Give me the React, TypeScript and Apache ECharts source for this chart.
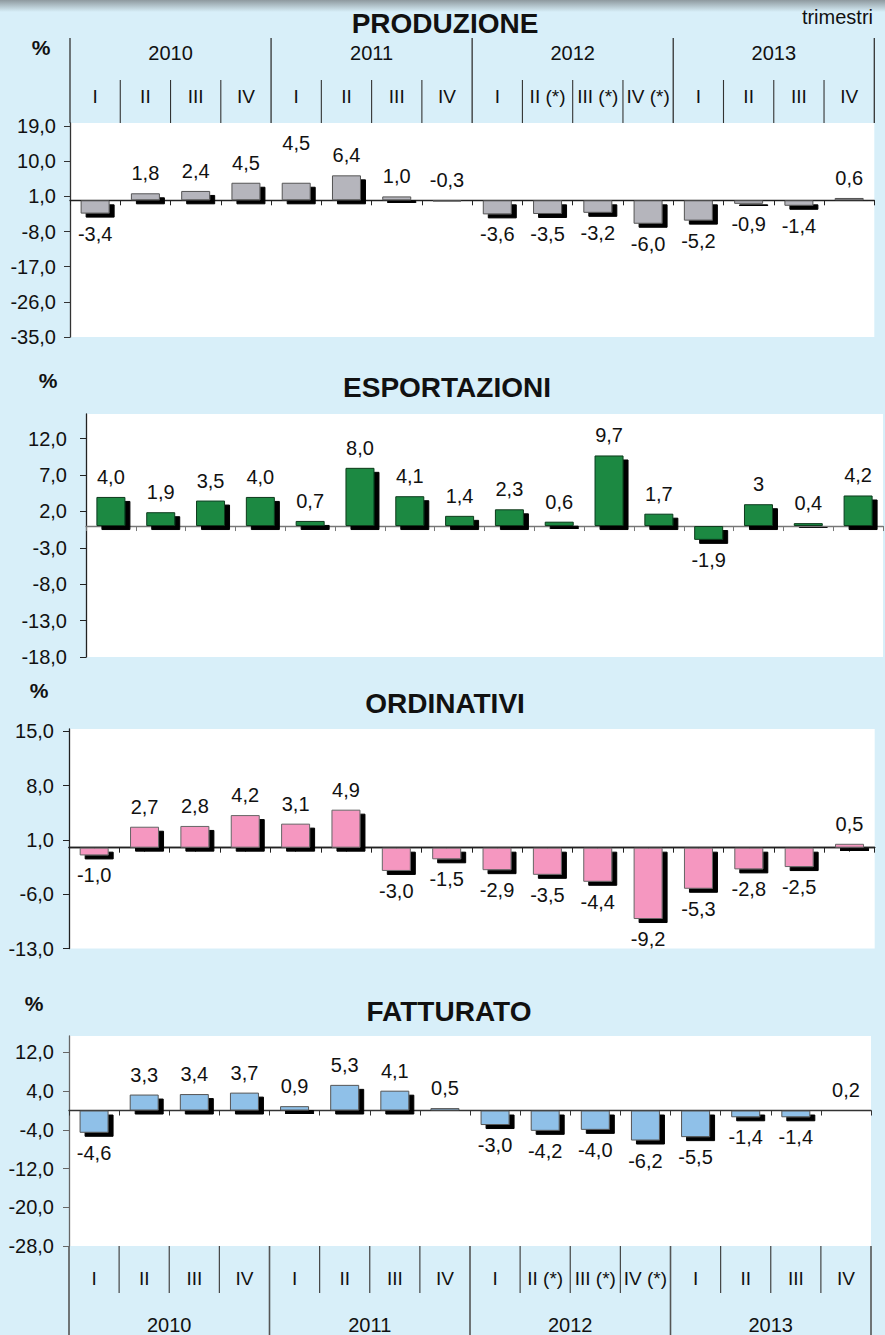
import React, { useEffect, useRef } from "react";
import * as echarts from "echarts";

// ---------- DATA ----------
const years = ["2010", "2011", "2012", "2013"];
const quarters = ["I", "II", "III", "IV", "I", "II", "III", "IV", "I", "II (*)", "III (*)", "IV (*)", "I", "II", "III", "IV"];

const produzione = [-3.4, 1.8, 2.4, 4.5, 4.5, 6.4, 1.0, -0.3, -3.6, -3.5, -3.2, -6.0, -5.2, -0.9, -1.4, 0.6];
const esportazioni = [4.0, 1.9, 3.5, 4.0, 0.7, 8.0, 4.1, 1.4, 2.3, 0.6, 9.7, 1.7, -1.9, 3, 0.4, 4.2];
const ordinativi = [-1.0, 2.7, 2.8, 4.2, 3.1, 4.9, -3.0, -1.5, -2.9, -3.5, -4.4, -9.2, -5.3, -2.8, -2.5, 0.5];
const fatturato = [-4.6, 3.3, 3.4, 3.7, 0.9, 5.3, 4.1, 0.5, -3.0, -4.2, -4.0, -6.2, -5.5, -1.4, -1.4, 0.2];

const produzioneTicks = [-35, -26, -17, -8, 1, 10, 19];
const esportazioniTicks = [-18, -13, -8, -3, 2, 7, 12];
const ordinativiTicks = [-13, -6, 1, 8, 15];
const fatturatoTicks = [-28, -20, -12, -4, 4, 12];

// label text exceptions (as printed in the source)
const esportazioniLabelText: Record<number, string> = { 13: "3" };
const produzioneLabelsAbove = [7];

// ---------- STYLE / LAYOUT ----------
const W = 885;
const H = 1335;
const FONT = "'Liberation Sans', Arial, Helvetica, sans-serif";
const BG = "#d8eff9";
const TXT = "#111";
const LABEL_SIZE = 20;

// extra lift (px) of single value labels, as placed in the source
const produzioneLabelLift: Record<number, number> = { 4: 20 };

const panels = [
  {
    name: "PRODUZIONE", values: produzione, ticks: produzioneTicks, min: -35, max: 19.8,
    left: 70, right: 874.3, top: 123, bottom: 337,
    fill: "#b5b5bc", border: "#555", yAxisColor: "#333", baseColor: "#222",
    labelMargin: 14, titleX: 445, titleY: 23, pctX: 41, pctY: 47,
    centerTicks: false, labelText: {} as Record<number, string>, above: produzioneLabelsAbove,
    lift: produzioneLabelLift,
  },
  {
    name: "ESPORTAZIONI", values: esportazioni, ticks: esportazioniTicks, min: -18, max: 15.4,
    left: 86, right: 883, top: 414, bottom: 657,
    fill: "#1b8943", border: "#0b3a1b", yAxisColor: "#222", baseColor: "#777",
    labelMargin: 19, titleX: 447, titleY: 387, pctX: 48, pctY: 380,
    centerTicks: false, labelText: esportazioniLabelText, above: [] as number[],
    lift: {} as Record<number, number>,
  },
  {
    name: "ORDINATIVI", values: ordinativi, ticks: ordinativiTicks, min: -13, max: 15.3,
    left: 69, right: 874.7, top: 729, bottom: 948.5,
    fill: "#f597c0", border: "#666", yAxisColor: "#222", baseColor: "#222",
    labelMargin: 15, titleX: 445, titleY: 703, pctX: 39, pctY: 690,
    centerTicks: true, labelText: {} as Record<number, string>, above: [] as number[],
    lift: {} as Record<number, number>,
  },
  {
    name: "FATTURATO", values: fatturato, ticks: fatturatoTicks, min: -28, max: 15.4,
    left: 69, right: 871, top: 1036, bottom: 1246,
    fill: "#8fc0e8", border: "#555", yAxisColor: "#666", baseColor: "#333",
    labelMargin: 15, titleX: 449, titleY: 1011, pctX: 34, pctY: 1003,
    centerTicks: false, labelText: {} as Record<number, string>, above: [] as number[],
    lift: {} as Record<number, number>,
  },
];

const fmt = (v: number) => v.toFixed(1).replace(".", ",");

function text(x: number, y: number, t: string, size: number, opts: any = {}) {
  return {
    type: "text",
    x,
    y,
    silent: true,
    style: {
      text: t,
      fontSize: size,
      fontFamily: FONT,
      fontWeight: opts.bold ? "bold" : "normal",
      fill: opts.color || TXT,
      align: opts.align || "center",
      verticalAlign: "middle",
      textAlign: opts.align || "center",
      textVerticalAlign: "middle",
    },
  };
}

function vline(x: number, y1: number, y2: number, color: string, w: number) {
  return {
    type: "line",
    silent: true,
    shape: { x1: x, y1, x2: x, y2 },
    style: { stroke: color, lineWidth: w },
  };
}

function buildOption() {
  const grids: any[] = [];
  const xAxes: any[] = [];
  const yAxes: any[] = [];
  const series: any[] = [];
  const graphics: any[] = [];

  // top shading
  graphics.push({
    type: "rect",
    silent: true,
    shape: { x: 0, y: 0, width: W, height: 12 },
    style: {
      fill: new echarts.graphic.LinearGradient(0, 0, 0, 1, [
        { offset: 0, color: "#8e999f" },
        { offset: 1, color: BG },
      ]),
    },
  });

  panels.forEach((p, i) => {
    grids.push({
      left: p.left,
      top: p.top,
      width: p.right - p.left,
      height: p.bottom - p.top,
      show: true,
      backgroundColor: "#fff",
      borderWidth: 0,
      containLabel: false,
    });

    yAxes.push({
      type: "value",
      gridIndex: i,
      min: p.min,
      max: p.max,
      axisLine: { show: true, lineStyle: { color: p.yAxisColor, width: 1.3 } },
      axisTick: { show: true, length: 6, customValues: p.ticks, lineStyle: { color: p.yAxisColor } },
      axisLabel: {
        show: true,
        customValues: p.ticks,
        margin: p.labelMargin,
        fontSize: LABEL_SIZE,
        fontFamily: FONT,
        color: TXT,
        formatter: (v: number) => fmt(v),
      },
      splitLine: { show: false },
    });
    const yIndex = yAxes.length - 1;

    xAxes.push({
      type: "category",
      gridIndex: i,
      position: "bottom",
      data: quarters,
      axisLine: { show: true, onZero: true, onZeroAxisIndex: yIndex, lineStyle: { color: p.baseColor, width: 1.3 } },
      axisTick: { show: true, length: 5, lineStyle: { color: p.baseColor, width: 1 } },
      axisLabel: { show: false },
      splitLine: { show: false },
    });
    const xIndex = xAxes.length - 1;

    if (p.centerTicks) {
      // hidden twin value axis so that a second category axis (ticks at mid-category) can also sit on zero
      yAxes.push({
        type: "value",
        gridIndex: i,
        min: p.min,
        max: p.max,
        axisLine: { show: false },
        axisTick: { show: false },
        axisLabel: { show: false },
        splitLine: { show: false },
      });
      const twinY = yAxes.length - 1;
      xAxes.push({
        type: "category",
        gridIndex: i,
        position: "bottom",
        data: quarters,
        axisLine: { show: true, onZero: true, onZeroAxisIndex: twinY, lineStyle: { color: p.baseColor, width: 1.3 } },
        axisTick: { show: true, alignWithLabel: true, length: 4, lineStyle: { color: p.baseColor, width: 1 } },
        axisLabel: { show: false },
        splitLine: { show: false },
      });
    }

    series.push({
      type: "bar",
      name: p.name,
      xAxisIndex: xIndex,
      yAxisIndex: yIndex,
      barWidth: 29,
      data: p.values.map((v, j) => ({
        value: v,
        label: {
          position: v < 0 && p.above.indexOf(j) < 0 ? "bottom" : "top",
          offset: [0, -(p.lift[j] || 0)],
        },
      })),
      itemStyle: {
        color: p.fill,
        borderColor: p.border,
        borderWidth: 1,
        shadowColor: "#000",
        shadowBlur: 0,
        shadowOffsetX: 5,
        shadowOffsetY: 4,
      },
      label: {
        show: true,
        distance: 10,
        fontSize: LABEL_SIZE,
        fontFamily: FONT,
        color: TXT,
        formatter: (prm: any) =>
          p.labelText[prm.dataIndex] !== undefined ? p.labelText[prm.dataIndex] : fmt(prm.value),
      },
    });

    // title & unit
    graphics.push(text(p.titleX, p.titleY, p.name, 28, { bold: true }));
    graphics.push(text(p.pctX, p.pctY, "%", 21, { bold: true }));
  });

  graphics.push(text(873, 17, "trimestri", 20, { align: "right" }));

  // header table (top of first panel)
  const p0 = panels[0];
  const cw0 = (p0.right - p0.left) / quarters.length;
  for (let k = 0; k <= quarters.length; k++) {
    const x = p0.left + k * cw0;
    if (k % 4 === 0) graphics.push(vline(x, 38, p0.top, "#333", 1.3));
    else graphics.push(vline(x, 80, p0.top, "#333", 1.1));
  }
  years.forEach((y, k) => graphics.push(text(p0.left + (4 * k + 2) * cw0, 53, y, 20)));
  quarters.forEach((q, k) => graphics.push(text(p0.left + (k + 0.5) * cw0, 96, q, 19)));

  // footer table (bottom of last panel)
  const p3 = panels[3];
  const cw3 = (p3.right - p3.left) / quarters.length;
  for (let k = 0; k <= quarters.length; k++) {
    const x = p3.left + k * cw3;
    if (k % 4 === 0) graphics.push(vline(x, p3.bottom, H, "#555", 1.6));
    else graphics.push(vline(x, p3.bottom, 1293, "#444", 1.2));
  }
  quarters.forEach((q, k) => graphics.push(text(p3.left + (k + 0.5) * cw3, 1278, q, 19)));
  years.forEach((y, k) => graphics.push(text(p3.left + (4 * k + 2) * cw3, 1325, y, 20)));

  return {
    animation: false,
    backgroundColor: BG,
    textStyle: { fontFamily: FONT },
    grid: grids,
    xAxis: xAxes,
    yAxis: yAxes,
    series,
    graphic: { elements: graphics },
  };
}

export default function App() {
  const ref = useRef<HTMLDivElement>(null);
  useEffect(() => {
    if (!ref.current) return;
    const chart = echarts.init(ref.current, undefined, { renderer: "svg", width: W, height: H });
    chart.setOption(buildOption() as any);
    return () => chart.dispose();
  }, []);
  return (
    <div
      ref={ref}
      style={{ position: "absolute", left: 0, top: 0, width: W, height: H, background: BG }}
    />
  );
}
